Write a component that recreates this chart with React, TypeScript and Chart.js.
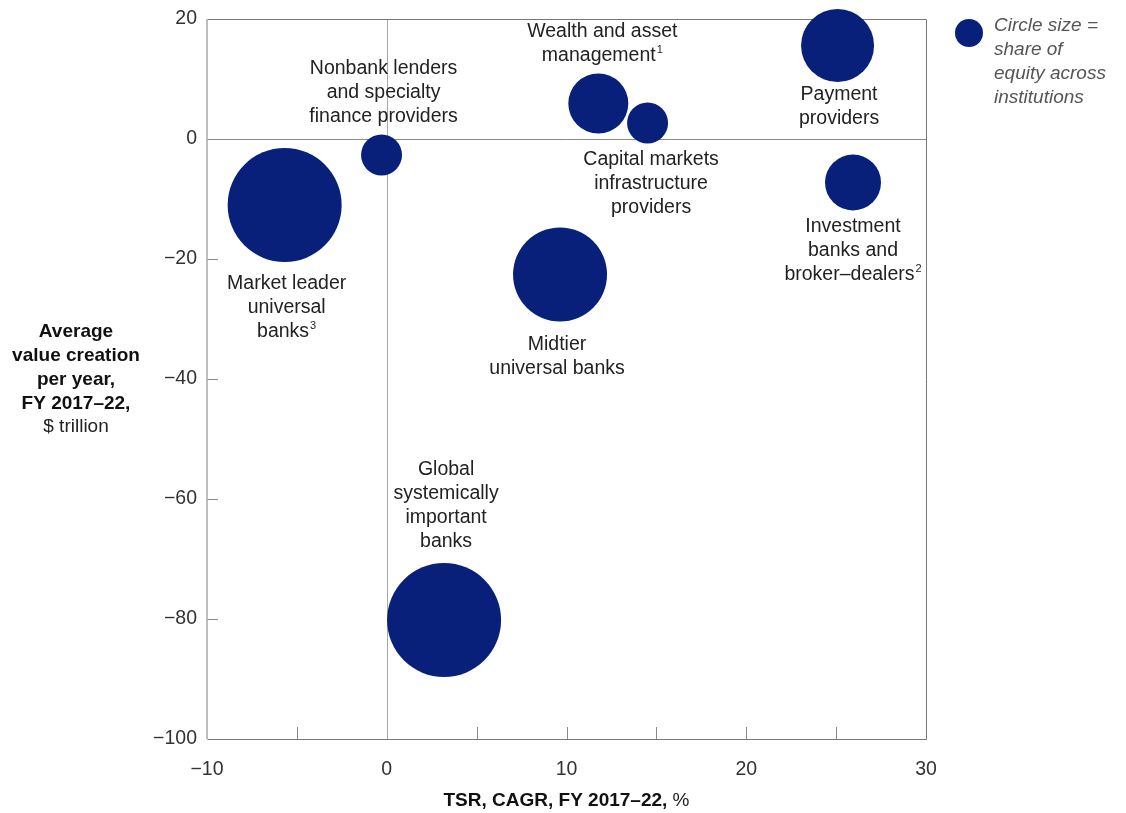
import React, { useEffect, useRef } from "react";
import { Chart, registerables } from "chart.js";

Chart.register(...registerables);

// ---- Data ----
const categories = [
  "Market leader universal banks",
  "Nonbank lenders and specialty finance providers",
  "Wealth and asset management",
  "Capital markets infrastructure providers",
  "Payment providers",
  "Investment banks and broker–dealers",
  "Midtier universal banks",
  "Global systemically important banks",
];
const tsrCagr = [-5.68, -0.29, 11.77, 14.51, 25.08, 25.94, 9.64, 3.19];
const valueCreation = [-11.0, -2.67, 5.92, 2.67, 15.58, -7.25, -22.58, -80.17];
const equityShareRadius = [57, 20.5, 30, 20.5, 36.5, 28, 47, 57];

const xTickValues = [-10, 0, 10, 20, 30];
const xMinorTicks = [-5, 5, 10, 15, 20, 25];
const yTickValues = [20, 0, -20, -40, -60, -80, -100];
const yMinorTicks = [-20, -40, -60, -80];

// label text per category: [text, superscript]
const labelLines: [string, string][][] = [
  [["Market leader", ""], ["universal", ""], ["banks", "3"]],
  [["Nonbank lenders", ""], ["and specialty", ""], ["finance providers", ""]],
  [["Wealth and asset", ""], ["management", "1"]],
  [["Capital markets", ""], ["infrastructure", ""], ["providers", ""]],
  [["Payment", ""], ["providers", ""]],
  [["Investment", ""], ["banks and", ""], ["broker–dealers", "2"]],
  [["Midtier", ""], ["universal banks", ""]],
  [["Global", ""], ["systemically", ""], ["important", ""], ["banks", ""]],
];

// label placement relative to bubble centre (style)
const labelOffsets = [
  [2, 79],
  [2, -86],
  [4, -71.5],
  [3.5, 37],
  [1.5, 49.5],
  [0, 44.5],
  [-3, 70.5],
  [2, -150],
];

const BUBBLE = "#08207a";
const FONT = "'Liberation Sans', Arial, sans-serif";
const FS = 19.5;
const FT = 19;
const fmt = (v: number) => (v < 0 ? "\u2212" + Math.abs(v) : String(v));

export default function App() {
  const ref = useRef<HTMLCanvasElement>(null);

  useEffect(() => {
    document.body.style.margin = "0";
    const canvas = ref.current!;

    const decor = {
      id: "decor",
      beforeDatasetsDraw(chart: any) {
        const { ctx, chartArea: a, scales } = chart;
        const xs = scales.x, ys = scales.y;
        ctx.save();
        ctx.lineWidth = 1;
        ctx.strokeStyle = "#8a8a8a";
        const y0 = Math.round(ys.getPixelForValue(0)) + 0.5;
        ctx.beginPath();
        ctx.moveTo(a.left, y0);
        ctx.lineTo(a.right, y0);
        ctx.stroke();
        ctx.strokeStyle = "#a8a8a8";
        const x0 = Math.round(xs.getPixelForValue(0)) + 0.5;
        ctx.beginPath();
        ctx.moveTo(x0, a.top);
        ctx.lineTo(x0, a.bottom);
        ctx.stroke();
        ctx.strokeStyle = "#8a8a8a";
        xMinorTicks.forEach((v) => {
          const px = Math.round(xs.getPixelForValue(v)) + 0.5;
          ctx.beginPath();
          ctx.moveTo(px, a.bottom);
          ctx.lineTo(px, a.bottom - 12);
          ctx.stroke();
        });
        yMinorTicks.forEach((v) => {
          const py = Math.round(ys.getPixelForValue(v)) + 0.5;
          ctx.beginPath();
          ctx.moveTo(a.left, py);
          ctx.lineTo(a.left + 11, py);
          ctx.stroke();
        });
        ctx.strokeStyle = "#777";
        ctx.beginPath();
        ctx.moveTo(Math.round(a.left) + 0.5, Math.round(a.top) + 0.5);
        ctx.lineTo(Math.round(a.right) + 0.5, Math.round(a.top) + 0.5);
        ctx.lineTo(Math.round(a.right) + 0.5, Math.round(a.bottom) + 0.5);
        ctx.lineTo(Math.round(a.left) + 0.5, Math.round(a.bottom) + 0.5);
        ctx.stroke();
        ctx.strokeStyle = "#a8a8a8";
        ctx.lineWidth = 1.5;
        ctx.beginPath();
        ctx.moveTo(Math.round(a.left), a.top);
        ctx.lineTo(Math.round(a.left), a.bottom);
        ctx.stroke();
        ctx.restore();
      },
      afterDraw(chart: any) {
        const { ctx, chartArea: a } = chart;
        const meta = chart.getDatasetMeta(0);
        ctx.save();
        ctx.textBaseline = "middle";
        const lh = 23.8;
        const mainFont = `${FS}px ${FONT}`;
        const supFont = `11px ${FONT}`;
        meta.data.forEach((el: any, i: number) => {
          const [dx, dy] = labelOffsets[i];
          const cx = el.x + dx;
          labelLines[i].forEach(([t, s], k) => {
            const y = el.y + dy + k * lh;
            ctx.font = mainFont;
            const w1 = ctx.measureText(t).width;
            ctx.font = supFont;
            const w2 = s ? ctx.measureText(s).width + 1 : 0;
            const left = cx - (w1 + w2) / 2;
            ctx.fillStyle = "#222";
            ctx.font = mainFont;
            ctx.textAlign = "left";
            ctx.fillText(t, left, y);
            if (s) {
              ctx.font = supFont;
              ctx.fillText(s, left + w1 + 1, y - 6);
            }
          });
        });

        // Y axis title
        ctx.textAlign = "center";
        ctx.fillStyle = "#111";
        const yTitle = ["Average", "value creation", "per year,", "FY 2017\u201322,"];
        ctx.font = `bold ${FT}px ${FONT}`;
        yTitle.forEach((t, k) => ctx.fillText(t, 76, 332 + k * 23.8));
        ctx.font = `${FT}px ${FONT}`;
        ctx.fillStyle = "#222";
        ctx.fillText("$ trillion", 76, 332 + 4 * 23.8);

        // X axis title
        const b = "TSR, CAGR, FY 2017\u201322,";
        const n = " %";
        ctx.font = `bold ${FT}px ${FONT}`;
        const wb = ctx.measureText(b).width;
        ctx.font = `${FT}px ${FONT}`;
        const wn = ctx.measureText(n).width;
        const xc = (a.left + a.right) / 2;
        const start = xc - (wb + wn) / 2;
        ctx.textAlign = "left";
        ctx.font = `bold ${FT}px ${FONT}`;
        ctx.fillStyle = "#111";
        ctx.fillText(b, start, 801);
        ctx.font = `${FT}px ${FONT}`;
        ctx.fillStyle = "#222";
        ctx.fillText(n, start + wb, 801);

        // Legend
        ctx.fillStyle = BUBBLE;
        ctx.beginPath();
        ctx.arc(969, 33, 14, 0, Math.PI * 2);
        ctx.fill();
        ctx.fillStyle = "#555";
        ctx.font = `italic ${FT}px ${FONT}`;
        ["Circle size =", "share of", "equity across", "institutions"].forEach((t, k) =>
          ctx.fillText(t, 994, 26 + k * 23.8)
        );
        ctx.restore();
      },
    };

    const chart = new Chart(canvas, {
      type: "bubble",
      data: {
        labels: categories,
        datasets: [
          {
            label: "Share of equity",
            data: categories.map((_, i) => ({
              x: tsrCagr[i],
              y: valueCreation[i],
              r: equityShareRadius[i],
            })),
            backgroundColor: BUBBLE,
            borderWidth: 0,
            hoverBorderWidth: 0,
            clip: false as any,
          },
        ],
      },
      options: {
        responsive: false,
        animation: false,
        devicePixelRatio: 1,
        layout: { autoPadding: false, padding: { left: 0, right: 200, top: 19, bottom: 0 } },
        plugins: { legend: { display: false }, tooltip: { enabled: false } },
        scales: {
          x: {
            type: "linear",
            min: -10,
            max: 30,
            afterBuildTicks: (s: any) => {
              s.ticks = xTickValues.map((v) => ({ value: v }));
            },
            afterFit: (s: any) => {
              s.height = 74;
              s.paddingLeft = 0;
              s.paddingRight = 0;
            },
            grid: { display: false, drawTicks: false },
            border: { display: false },
            ticks: {
              padding: 19,
              color: "#333",
              font: { family: FONT, size: FS },
              callback: (v: any) => fmt(Number(v)),
              maxRotation: 0,
            },
          },
          y: {
            type: "linear",
            min: -100,
            max: 20,
            afterBuildTicks: (s: any) => {
              s.ticks = yTickValues.map((v) => ({ value: v }));
            },
            afterFit: (s: any) => {
              s.width = 207;
              s.paddingTop = 0;
              s.paddingBottom = 0;
            },
            grid: { display: false, drawTicks: false },
            border: { display: false },
            ticks: {
              padding: 10,
              color: "#333",
              font: { family: FONT, size: FS },
              callback: (v: any) => fmt(Number(v)),
            },
          },
        },
      },
      plugins: [decor],
    });
    return () => chart.destroy();
  }, []);

  return (
    <div style={{ width: 1126, height: 813 }}>
      <canvas ref={ref} width={1126} height={813} style={{ display: "block" }} />
    </div>
  );
}
